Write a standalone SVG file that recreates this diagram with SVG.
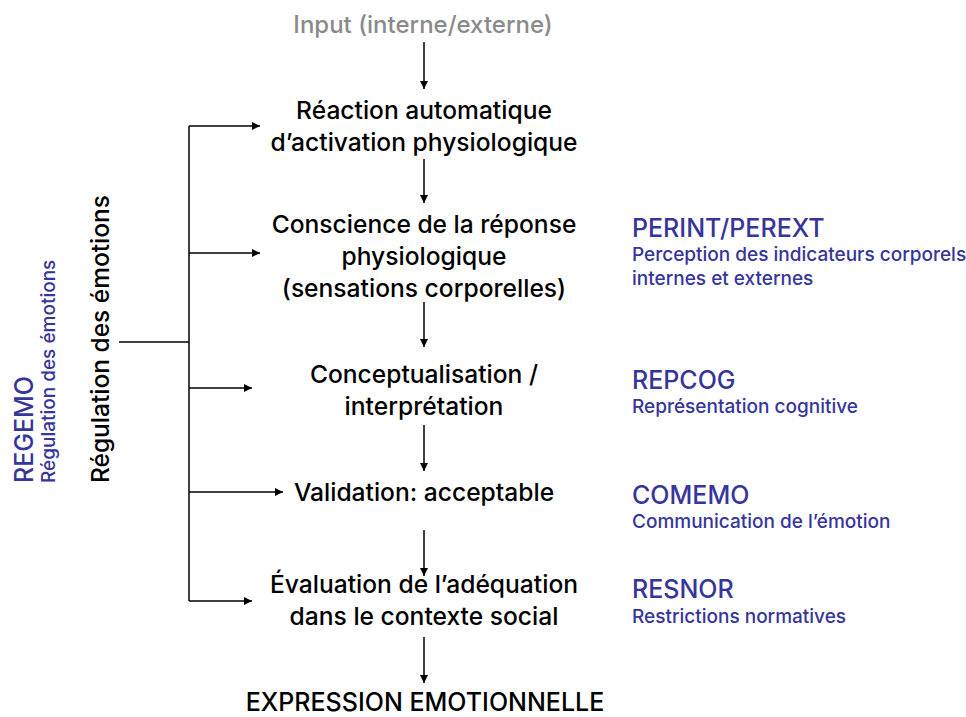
<svg xmlns="http://www.w3.org/2000/svg" width="966" height="717" viewBox="0 0 966 717">
  <defs>
    <marker id="ah" viewBox="0 0 10 10" refX="10" refY="5" markerWidth="8" markerHeight="8" markerUnits="userSpaceOnUse" orient="auto">
      <path d="M0,0 L10,5 L0,10 Z" fill="#000"/>
    </marker>
  </defs>
  <style>
    text { font-family: Inter, "Liberation Sans", Arial, sans-serif; font-weight: 500; }
    .step { font-size: 24.6px; fill: #000; text-anchor: middle; }
    .input { font-size: 24px; fill: #8a8a8a; text-anchor: middle; }
    .code { font-size: 25px; fill: #35359a; }
    .desc { font-size: 19px; fill: #35359a; }
    .big { font-size: 24.5px; fill: #000; }
    .conn { stroke: #000; stroke-width: 1.5; fill: none; }
    .arr { marker-end: url(#ah); }
  </style>
  <rect width="966" height="717" fill="#fff"/>

  <g id="connectors">
    <!-- main flow -->
    <line class="conn arr" x1="424" y1="42" x2="424" y2="89"/>
    <line class="conn arr" x1="424" y1="159" x2="424" y2="203"/>
    <line class="conn arr" x1="424" y1="302" x2="424" y2="347"/>
    <line class="conn arr" x1="424" y1="425" x2="424" y2="471"/>
    <line class="conn arr" x1="424" y1="530" x2="424" y2="576"/>
    <line class="conn arr" x1="424" y1="637" x2="424" y2="683"/>
    <!-- regulation bracket -->
    <line class="conn" x1="119" y1="342" x2="189" y2="342"/>
    <line class="conn" x1="189" y1="126" x2="189" y2="601"/>
    <line class="conn arr" x1="189" y1="126" x2="260" y2="126"/>
    <line class="conn arr" x1="189" y1="253" x2="260" y2="253"/>
    <line class="conn arr" x1="189" y1="388" x2="252" y2="388"/>
    <line class="conn arr" x1="189" y1="492" x2="283" y2="492"/>
    <line class="conn arr" x1="189" y1="601" x2="252" y2="601"/>
  </g>

  <g id="input"><text class="input" x="423" y="33">Input (interne/externe)</text></g>
  <g id="reaction">
    <text class="step" x="424" y="119">Réaction automatique</text>
    <text class="step" x="424" y="151">d’activation physiologique</text>
  </g>
  <g id="conscience">
    <text class="step" x="424" y="233">Conscience de la réponse</text>
    <text class="step" x="424" y="265">physiologique</text>
    <text class="step" x="424" y="297">(sensations corporelles)</text>
  </g>
  <g id="conceptualisation">
    <text class="step" x="424" y="383">Conceptualisation /</text>
    <text class="step" x="424" y="415">interprétation</text>
  </g>
  <g id="validation"><text class="step" x="424" y="501">Validation: acceptable</text></g>
  <g id="evaluation">
    <text class="step" x="424" y="593">Évaluation de l’adéquation</text>
    <text class="step" x="424" y="625">dans le contexte social</text>
  </g>
  <g id="expression"><text class="step" x="425" y="711" style="font-size:25px">EXPRESSION EMOTIONNELLE</text></g>

  <g id="perint">
    <text class="code" x="632" y="237">PERINT/PEREXT</text>
    <text class="desc" x="632" y="261">Perception des indicateurs corporels</text>
    <text class="desc" x="632" y="285">internes et externes</text>
  </g>
  <g id="repcog">
    <text class="code" x="632" y="389">REPCOG</text>
    <text class="desc" x="632" y="413">Représentation cognitive</text>
  </g>
  <g id="comemo">
    <text class="code" x="632" y="504">COMEMO</text>
    <text class="desc" x="632" y="528">Communication de l’émotion</text>
  </g>
  <g id="resnor">
    <text class="code" x="632" y="598">RESNOR</text>
    <text class="desc" x="632" y="623">Restrictions normatives</text>
  </g>

  <g id="regulation">
    <text class="big" transform="translate(109,483) rotate(-90)">Régulation des émotions</text>
  </g>
  <g id="regemo">
    <text class="code" transform="translate(33,483) rotate(-90)">REGEMO</text>
    <text class="desc" transform="translate(55,483) rotate(-90)">Régulation des émotions</text>
  </g>
</svg>
